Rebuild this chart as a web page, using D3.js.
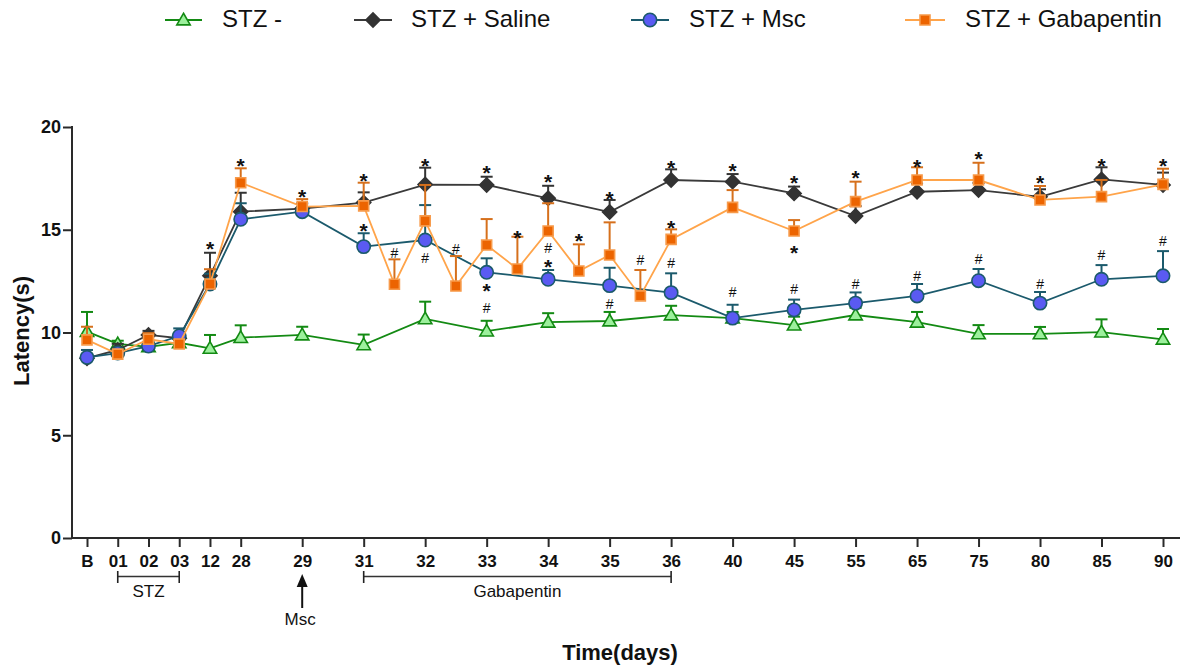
<!DOCTYPE html>
<html>
<head>
<meta charset="utf-8">
<script src="https://cdn.jsdelivr.net/npm/d3@7"></script>
<style>
  body { margin: 0; background: #fff; }
  svg { display: block; }
  text { font-family: "Liberation Sans", Arial, Helvetica, sans-serif; }
</style>
</head>
<body>
<svg id="chart" width="1185" height="670"></svg>
<script>
// ---- data ----
// Day labels on the x axis and their slot on the (uneven) time axis
const dayLabels = ["B","01","02","03","12","28","29","31","32","33","34","35","36","40","45","55","65","75","80","85","90"];
const daySlots  = [0, 1, 2, 3, 4, 5, 7, 9, 11, 13, 15, 17, 19, 21, 23, 25, 27, 29, 31, 33, 35];

// STZ - (non-diabetic control)
const stzNegMean = [10.04, 9.45, 9.30, 9.50, 9.23, 9.75, 9.88, 9.40, 10.66, 10.07, 10.50, 10.56, 10.85, 10.70, 10.36, 10.85, 10.50, 9.93, 9.93, 10.02, 9.67];
const stzNegSem  = [0.96, 0.15, 0.15, 0.15, 0.65, 0.60, 0.40, 0.50, 0.84, 0.50, 0.44, 0.44, 0.45, 0.30, 0.41, 0.35, 0.50, 0.43, 0.34, 0.62, 0.50];

// STZ + Saline
const salineMean = [8.75, 9.15, 9.88, 9.72, 12.76, 15.88, 16.03, 16.32, 17.20, 17.18, 16.53, 15.86, 17.42, 17.34, 16.77, 15.67, 16.85, 16.93, 16.60, 17.45, 17.18];
const salineSem  = [0.15, 0.30, 0.20, 0.20, 1.12, 0.92, 0.25, 0.50, 0.82, 0.40, 0.61, 0.59, 0.52, 0.37, 0.33, 0.48, 0.40, 0.35, 0.37, 0.59, 0.60];

// STZ + Msc
const mscMean = [8.79, 9.00, 9.34, 9.83, 12.36, 15.51, 15.88, 14.18, 14.50, 12.93, 12.59, 12.28, 11.94, 10.70, 11.10, 11.43, 11.78, 12.52, 11.43, 12.59, 12.76];
const mscSem  = [0.36, 0.20, 0.20, 0.37, 0.50, 0.78, 0.20, 0.65, 1.70, 0.68, 0.45, 0.87, 0.94, 0.65, 0.50, 0.52, 0.58, 0.57, 0.54, 0.69, 1.20];

// STZ + Gabapentin (twice-daily readings during the treatment window)
const gabaSlots = [0, 1, 2, 3, 4, 5, 7, 9, 10, 11, 12, 13, 14, 15, 16, 17, 18, 19, 21, 23, 25, 27, 29, 31, 33, 35];
const gabaMean  = [9.64, 8.95, 9.67, 9.44, 12.36, 17.29, 16.13, 16.16, 12.35, 15.43, 12.26, 14.26, 13.09, 14.94, 12.99, 13.77, 11.78, 14.53, 16.09, 14.94, 16.37, 17.42, 17.42, 16.45, 16.61, 17.21];
const gabaSem   = [0.64, 0.20, 0.30, 0.20, 0.72, 0.70, 0.36, 1.13, 1.21, 1.75, 1.46, 1.26, 1.57, 1.35, 1.30, 1.59, 1.26, 0.49, 0.84, 0.53, 0.97, 0.62, 0.84, 0.68, 0.81, 0.76];

const yTicks = [0, 5, 10, 15, 20];

// Significance marks: [slot, latency level]
const starMarks = [[4, 14.26], [5, 18.31], [7, 16.77], [9, 17.58], [9, 15.12], [11, 18.31], [13, 17.94], [13, 12.22],
  [14, 14.78], [15, 17.50], [15, 13.37], [16, 14.63], [17, 16.69], [19, 18.20], [19, 15.27], [21, 18.04],
  [23, 17.46], [23, 14.06], [25, 17.70], [27, 18.26], [29, 18.64], [31, 17.47], [33, 18.31], [35, 18.28]];
const hashMarks = [[10, 13.85], [11, 13.61], [12, 14.06], [13, 11.18], [15, 14.10], [17, 11.39], [18, 13.53], [19, 13.37],
  [21, 11.96], [23, 12.10], [25, 12.36], [27, 12.76], [29, 13.56], [31, 12.36], [33, 13.77], [35, 14.45]];

// ---- chart ----
const svg = d3.select("#chart");
const x = d3.scaleLinear().domain([0, 35]).range([87, 1163]);
const y = d3.scaleLinear().domain([0, 20]).range([538, 127]);
const axisColor = "#2a2a2a";

const series = [
  { name: "STZ -", slots: daySlots, mean: stzNegMean, sem: stzNegSem,
    line: "#138a13", err: "#138a13", fill: "#9cf09c", stroke: "#138a13", shape: "triangle" },
  { name: "STZ + Saline", slots: daySlots, mean: salineMean, sem: salineSem,
    line: "#3a3a3a", err: "#333333", fill: "#333333", stroke: "#333333", shape: "diamond" },
  { name: "STZ + Msc", slots: daySlots, mean: mscMean, sem: mscSem,
    line: "#1b5a6c", err: "#1b5a6c", fill: "#5a5af2", stroke: "#1b5a6c", shape: "circle" },
  { name: "STZ + Gabapentin", slots: gabaSlots, mean: gabaMean, sem: gabaSem,
    line: "#ffa44a", err: "#d6701c", fill: "#ec6400", stroke: "#f79a4a", shape: "square" }
];

function markerPath(shape) {
  if (shape === "triangle") return d3.symbol().type(d3.symbolTriangle).size(78)();
  if (shape === "diamond") return d3.symbol().type(d3.symbolSquare).size(100)();
  if (shape === "circle") return d3.symbol().type(d3.symbolCircle).size(140)();
  return d3.symbol().type(d3.symbolSquare).size(100)();
}
function markerTransform(shape, px, py) {
  if (shape === "diamond") return `translate(${px},${py}) rotate(45)`;
  if (shape === "triangle") return `translate(${px},${py + 1})`;
  return `translate(${px},${py})`;
}

// Axes
const yAxis = d3.axisLeft(y).tickValues(yTicks).tickSize(9).tickPadding(2).tickFormat(d3.format("d"));
const gy = svg.append("g").attr("transform", "translate(72,0)").call(yAxis);
gy.select(".domain").remove();
gy.selectAll(".tick line").attr("stroke", axisColor).attr("stroke-width", 2);
gy.selectAll(".tick text").attr("font-size", 18).attr("font-weight", "bold").attr("fill", "#111")
  .attr("font-family", "'Liberation Sans', Arial, sans-serif");

const xAxis = d3.axisBottom(x).tickValues(daySlots).tickSize(9).tickPadding(8)
  .tickFormat((d, i) => dayLabels[i]);
const gx = svg.append("g").attr("transform", "translate(0,538)").call(xAxis);
gx.select(".domain").remove();
gx.selectAll(".tick line").attr("stroke", axisColor).attr("stroke-width", 2);
gx.selectAll(".tick text").attr("font-size", 17).attr("font-weight", "bold").attr("fill", "#111")
  .attr("font-family", "'Liberation Sans', Arial, sans-serif");

svg.append("line").attr("x1", 72).attr("x2", 72).attr("y1", y(20) - 1).attr("y2", 539)
  .attr("stroke", axisColor).attr("stroke-width", 2);
svg.append("line").attr("x1", 71).attr("x2", 1180).attr("y1", 538).attr("y2", 538)
  .attr("stroke", axisColor).attr("stroke-width", 2);

// Axis titles
svg.append("text").attr("transform", "translate(29,331) rotate(-90)").attr("text-anchor", "middle")
  .attr("font-size", 22).attr("font-weight", "bold").attr("fill", "#111").text("Latency(s)");
svg.append("text").attr("x", 620).attr("y", 660).attr("text-anchor", "middle")
  .attr("font-size", 22).attr("font-weight", "bold").attr("fill", "#111").text("Time(days)");

// Treatment brackets under the axis
function bracket(s0, s1, label) {
  const g = svg.append("g");
  const yb = 576.5;
  g.append("line").attr("x1", x(s0)).attr("x2", x(s1)).attr("y1", yb).attr("y2", yb)
    .attr("stroke", "#333").attr("stroke-width", 1.6);
  [s0, s1].forEach(s => g.append("line").attr("x1", x(s)).attr("x2", x(s)).attr("y1", 571).attr("y2", 583)
    .attr("stroke", "#222").attr("stroke-width", 1.6));
  g.append("text").attr("x", (x(s0) + x(s1)) / 2).attr("y", 597).attr("text-anchor", "middle")
    .attr("font-size", 17).attr("fill", "#111").text(label);
}
bracket(1, 3, "STZ");
bracket(9, 19, "Gabapentin");

// Msc injection arrow at day 29
const ax = x(7);
svg.append("line").attr("x1", ax).attr("x2", ax).attr("y1", 584).attr("y2", 608)
  .attr("stroke", "#111").attr("stroke-width", 2);
svg.append("path").attr("d", `M${ax},574 L${ax - 5.5},587 L${ax + 5.5},587 Z`).attr("fill", "#111");
svg.append("text").attr("x", ax - 2).attr("y", 625).attr("text-anchor", "middle")
  .attr("font-size", 17).attr("fill", "#111").text("Msc");

// Series: line, upward error bars, markers
series.forEach(s => {
  const pts = s.slots.map((sl, i) => ({ sl, m: s.mean[i], e: s.sem[i] }));
  const g = svg.append("g");
  g.append("path").datum(pts)
    .attr("d", d3.line().x(d => x(d.sl)).y(d => y(d.m)))
    .attr("fill", "none").attr("stroke", s.line).attr("stroke-width", 1.8);
  const eb = g.selectAll(".eb").data(pts).join("g");
  eb.append("line").attr("x1", d => x(d.sl)).attr("x2", d => x(d.sl))
    .attr("y1", d => y(d.m)).attr("y2", d => y(d.m + d.e))
    .attr("stroke", s.err).attr("stroke-width", 2);
  eb.append("line").attr("x1", d => x(d.sl) - 6).attr("x2", d => x(d.sl) + 6)
    .attr("y1", d => y(d.m + d.e)).attr("y2", d => y(d.m + d.e))
    .attr("stroke", s.err).attr("stroke-width", 2);
  g.selectAll(".mk").data(pts).join("path")
    .attr("d", markerPath(s.shape))
    .attr("transform", d => markerTransform(s.shape, x(d.sl), y(d.m)))
    .attr("fill", s.fill).attr("stroke", s.stroke).attr("stroke-width", 1.6);
});

// Significance marks
svg.selectAll(".star").data(starMarks).join("text")
  .attr("x", d => x(d[0])).attr("y", d => y(d[1]) + 11)
  .attr("text-anchor", "middle").attr("font-size", 21).attr("font-weight", "bold").attr("fill", "#111")
  .text("*");
svg.selectAll(".hash").data(hashMarks).join("text")
  .attr("x", d => x(d[0])).attr("y", d => y(d[1]) + 5)
  .attr("text-anchor", "middle").attr("font-size", 14).attr("fill", "#111")
  .text("#");

// Legend
const legendPos = [
  { x1: 165, x2: 202, tx: 222 },
  { x1: 354, x2: 392, tx: 411 },
  { x1: 631, x2: 669, tx: 689 },
  { x1: 905, x2: 945, tx: 965 }
];
series.forEach((s, i) => {
  const p = legendPos[i];
  const g = svg.append("g");
  g.append("line").attr("x1", p.x1).attr("x2", p.x2).attr("y1", 20).attr("y2", 20)
    .attr("stroke", s.line).attr("stroke-width", 1.8);
  g.append("path").attr("d", markerPath(s.shape))
    .attr("transform", markerTransform(s.shape, (p.x1 + p.x2) / 2, 20))
    .attr("fill", s.fill).attr("stroke", s.stroke).attr("stroke-width", 1.6);
  g.append("text").attr("x", p.tx).attr("y", 27).attr("font-size", 24).attr("fill", "#111").text(s.name);
});
</script>
</body>
</html>
